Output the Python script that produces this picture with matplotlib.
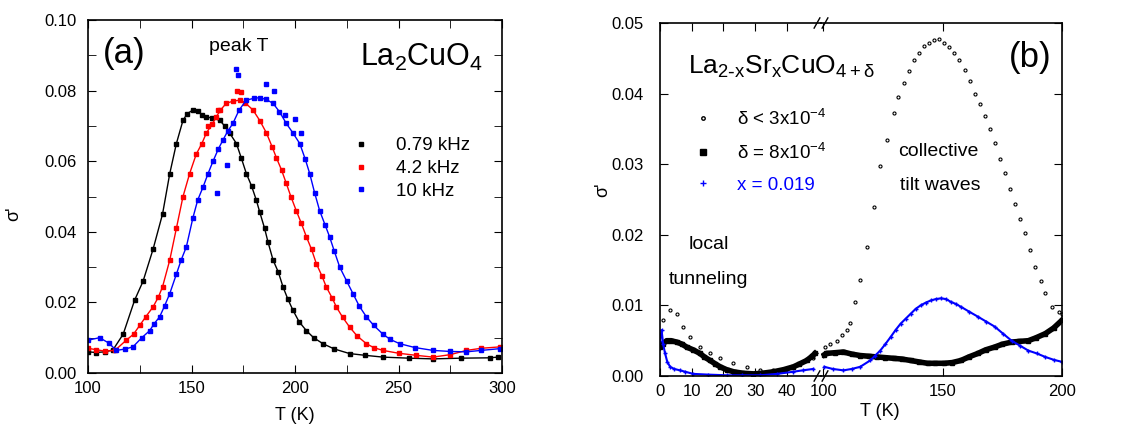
import matplotlib
matplotlib.use("Agg")
import matplotlib.pyplot as plt
from matplotlib.lines import Line2D
from matplotlib.ticker import MultipleLocator, FormatStrFormatter

plt.rcParams['font.family'] = ['Liberation Sans', 'DejaVu Sans']
plt.rcParams['mathtext.default'] = 'regular'

# ---------------- Panel (a) data: La2CuO4 ----------------
T_079 = [100, 104, 108, 112, 117, 122.5, 126.6, 131.4, 136, 139.5, 142.7, 145.9, 148, 150.7, 153, 155, 157,
         160, 163.6, 166, 168.4, 171.7, 174, 176.5, 179, 181.3, 183, 185.3, 187, 189.4, 192, 194.2, 196.5,
         199, 202, 205.5, 209, 213.5, 219, 226.4, 234, 242.5, 255, 266.7, 280, 294, 298]
S_079 = [0.0060, 0.0058, 0.0060, 0.0065, 0.011, 0.0206, 0.026, 0.035, 0.045, 0.0565, 0.065, 0.0716, 0.0735,
         0.0745, 0.0742, 0.0732, 0.0726, 0.0722, 0.0716, 0.0700, 0.0680, 0.0650, 0.0610, 0.0565, 0.0530,
         0.0490, 0.0455, 0.0410, 0.0370, 0.0320, 0.0285, 0.0244, 0.0210, 0.0178, 0.0145, 0.0120, 0.0100,
         0.0083, 0.0068, 0.0055, 0.0050, 0.0045, 0.0042, 0.0040, 0.0042, 0.0043, 0.0045]

T_42 = [100, 104, 108, 113, 118.5, 122, 125, 128, 131.4, 134, 136, 139.5, 142.7, 145.9, 149.1, 152.3, 155,
        157.2, 160, 162, 164, 166.8, 170, 173.3, 176, 179.7, 183, 186.2, 189, 191, 193.5, 195.8, 198,
        200.6, 203, 205.5, 208, 210.3, 213, 215.1, 218, 220, 223, 226.4, 230, 234.5, 238, 242.5, 250,
        258.6, 266.7, 275, 282.8, 290, 298.9]
S_42 = [0.0070, 0.0066, 0.0062, 0.0064, 0.0093, 0.0110, 0.0135, 0.0160, 0.0187, 0.0215, 0.0244, 0.0320,
        0.0410, 0.0500, 0.0565, 0.0620, 0.0650, 0.0680, 0.0705, 0.0726, 0.0745, 0.0764, 0.0770, 0.0773,
        0.0765, 0.0745, 0.0715, 0.0680, 0.0640, 0.0610, 0.0575, 0.0537, 0.0500, 0.0460, 0.0425, 0.0386,
        0.0350, 0.0310, 0.0275, 0.0244, 0.0212, 0.0187, 0.0158, 0.0130, 0.0105, 0.0083, 0.0072, 0.0064,
        0.0056, 0.0050, 0.0045, 0.0052, 0.0064, 0.0070, 0.0074]

T_10 = [100, 105.6, 110, 113.7, 118, 121.7, 126, 129.8, 132, 134.6, 137, 139.5, 142.7, 145, 147.5, 150.7,
        153, 155.6, 158, 160.4, 163, 165.2, 167.5, 170, 173, 176.5, 180, 182.9, 186, 189.4, 192.5, 195.8,
        199, 202.3, 205, 207.1, 209.5, 211.9, 214.5, 216.7, 219, 221.6, 225, 228, 231, 234.5, 238,
        242.5, 246, 250.6, 258, 266.7, 275, 282.8, 290, 298.9]
S_10 = [0.0093, 0.0100, 0.0085, 0.0064, 0.0068, 0.0074, 0.0100, 0.0120, 0.0140, 0.0159, 0.0190, 0.0225,
        0.0280, 0.0320, 0.0357, 0.0440, 0.0490, 0.0527, 0.0565, 0.0600, 0.0635, 0.0660, 0.0685, 0.0707,
        0.0745, 0.0773, 0.0778, 0.0780, 0.0775, 0.0764, 0.0740, 0.0707, 0.0680, 0.0650, 0.0605, 0.0565,
        0.0510, 0.0460, 0.0420, 0.0386, 0.0345, 0.0300, 0.0260, 0.0225, 0.0190, 0.0159, 0.0135, 0.0110,
        0.0095, 0.0083, 0.0072, 0.0064, 0.0061, 0.0060, 0.0064, 0.0069]

# scattered outliers near the peak
T_10_out = [171.5, 172.5, 186, 190, 195, 200, 203, 167, 162.5]
S_10_out = [0.0860, 0.0845, 0.0820, 0.0800, 0.0730, 0.0720, 0.0680, 0.0590, 0.0510]
T_42_out = [172, 174, 158, 163]
S_42_out = [0.0800, 0.0795, 0.0700, 0.0745]

labels_a = ['0.79 kHz', '4.2 kHz', '10 kHz']
colors_a = ['black', 'red', 'blue']

# ---------------- Panel (b) data: La2-xSrxCuO4+d ----------------
# delta < 3e-4 (open circles)
Tb1_lo = [1, 3.2, 5.3, 7.4, 9.5, 12.6, 15.8, 19, 23, 27.4, 31.6, 35.8, 40, 44.2, 48.4]
Sb1_lo = [0.0079, 0.0093, 0.0088, 0.0070, 0.0055, 0.0041, 0.0032, 0.0025, 0.0018, 0.0013, 0.0008,
          0.0008, 0.0010, 0.0018, 0.0025]
Tb1_hi = [100.7, 103, 105.6, 108, 109.9, 111.3, 113.5, 115.5, 118.3, 121.1, 123.9, 126.8, 129.6, 131.5,
          133.8, 136, 138, 140, 142.3, 144.5, 146.5, 148.5, 150.7, 152.8, 154.9, 157, 159.2, 161.3, 163.4,
          165.5, 167.6, 169.7, 171.8, 174, 176.1, 178.2, 180.3, 182.4, 184.5, 186.6, 188.7, 191, 193,
          195.8, 198.6, 200]
Sb1_hi = [0.0041, 0.0045, 0.0050, 0.0058, 0.0065, 0.0075, 0.0105, 0.0136, 0.0183, 0.0240, 0.0297, 0.0334,
          0.0372, 0.0395, 0.0415, 0.0432, 0.0448, 0.0458, 0.0467, 0.0472, 0.0476, 0.0477, 0.0472, 0.0466,
          0.0457, 0.0447, 0.0434, 0.0418, 0.0400, 0.0385, 0.0368, 0.0350, 0.0330, 0.0308, 0.0287, 0.0265,
          0.0244, 0.0222, 0.0202, 0.0178, 0.0155, 0.0135, 0.0117, 0.0098, 0.0090, 0.0088]

# delta = 8e-4 (filled squares)
Tb2_lo = [0, 1, 2.1, 3.5, 5.3, 7, 8.4, 10.5, 12.6, 14, 15.8, 17.5, 19, 21, 23.2, 26, 29.5, 32.5, 35.8,
          39, 42.1, 44, 46.3, 48, 48.9]
Sb2_lo = [0.0041, 0.0046, 0.0050, 0.0050, 0.0048, 0.0045, 0.0041, 0.0037, 0.0032, 0.0027, 0.0022, 0.0017,
          0.0013, 0.0009, 0.0006, 0.0004, 0.0003, 0.0004, 0.0006, 0.0009, 0.0013, 0.0017, 0.0022, 0.0028,
          0.0032]
Tb2_hi = [100.5, 101.4, 105, 108.5, 112, 115.5, 119, 122.5, 126, 129.6, 133, 136.6, 140, 143.7, 147,
          150.7, 154, 157.7, 161, 164.8, 168, 171.8, 175, 178.9, 182, 185.9, 189, 193, 196.5, 200]
Sb2_hi = [0.0030, 0.0032, 0.0033, 0.0034, 0.0031, 0.0029, 0.0028, 0.0027, 0.0026, 0.0025, 0.0024, 0.0022,
          0.0020, 0.0018, 0.0018, 0.0018, 0.0019, 0.0022, 0.0027, 0.0032, 0.0037, 0.0041, 0.0045, 0.0048,
          0.0049, 0.0050, 0.0054, 0.0060, 0.0068, 0.0079]

# x = 0.019 (blue)
Tb3_lo = [0, 0.5, 1, 1.6, 2.3, 3.2, 4.5, 6.3, 8, 10.5, 15, 21, 26, 31.6, 37, 42, 45, 48.4]
Sb3_lo = [0.0050, 0.0065, 0.0045, 0.0032, 0.0020, 0.0013, 0.0010, 0.0008, 0.0006, 0.0003, 0.0002, 0.0001,
          0.0001, 0.0001, 0.0003, 0.0006, 0.0008, 0.0010]
Tb3_hi = [100.5, 104, 108.5, 112, 115.5, 119.7, 121.8, 123.9, 126, 128.2, 130.3, 132.4, 134.5, 136.6,
          138.7, 140.8, 143, 145.1, 147.2, 149.3, 151.4, 153.5, 155.6, 157.7, 161.2, 164.8, 168.3, 171.8,
          175.3, 178.9, 182.4, 185.9, 189.4, 193, 196.5, 200]
Sb3_hi = [0.0013, 0.0010, 0.0008, 0.0010, 0.0013, 0.0022, 0.0029, 0.0036, 0.0045, 0.0055, 0.0065, 0.0074,
          0.0081, 0.0088, 0.0095, 0.0100, 0.0104, 0.0107, 0.0109, 0.0110, 0.0109, 0.0105, 0.0102, 0.0098,
          0.0091, 0.0084, 0.0077, 0.0070, 0.0060, 0.0050, 0.0043, 0.0036, 0.0032, 0.0027, 0.0023, 0.0020]

labels_b = ['δ < 3x10$^{-4}$', 'δ = 8x10$^{-4}$', 'x = 0.019']

# ---------------- Figure ----------------
W, H = 1145, 425
fig = plt.figure(figsize=(W / 100, H / 100), dpi=100)

def rect(x0, x1, ytop, ybot):
    return [x0 / W, (H - ybot) / H, (x1 - x0) / W, (ybot - ytop) / H]

TICK_FS = 12

# Panel (a)
ax = fig.add_axes(rect(88, 502, 20, 373))
ms = 2.6
ax.plot(T_079, S_079, color='black', lw=1.0, marker='s', ms=ms, ls='-')
ax.plot(T_42, S_42, color='red', lw=1.0, marker='s', ms=ms, ls='-')
ax.plot(T_10, S_10, color='blue', lw=1.0, marker='s', ms=ms, ls='-')
ax.plot(T_42_out, S_42_out, color='red', lw=0, marker='s', ms=ms)
ax.plot(T_10_out, S_10_out, color='blue', lw=0, marker='s', ms=ms)
ax.set_xlim(100, 300)
ax.set_ylim(0, 0.10)
ax.xaxis.set_major_locator(MultipleLocator(50))
ax.xaxis.set_minor_locator(MultipleLocator(25))
ax.yaxis.set_major_locator(MultipleLocator(0.02))
ax.yaxis.set_minor_locator(MultipleLocator(0.01))
ax.yaxis.set_major_formatter(FormatStrFormatter('%.2f'))
ax.tick_params(which='both', direction='in', top=True, right=True, labelsize=TICK_FS, length=6)
ax.tick_params(axis='y', which='both', pad=8)
ax.tick_params(axis='x', which='both', pad=6)
ax.set_xlabel('T (K)', fontsize=13)
ax.xaxis.set_label_coords(0.5, -0.095)
ax.set_ylabel("σ'", fontsize=13)
ax.yaxis.set_label_coords(-0.16, 0.45)
ax.text(0.035, 0.905, '(a)', transform=ax.transAxes, fontsize=25, ha='left', va='center')
ax.text(0.365, 0.925, 'peak T', transform=ax.transAxes, fontsize=14, ha='center', va='center')
ax.text(0.955, 0.895, 'La$_2$CuO$_4$', transform=ax.transAxes, fontsize=22, ha='right', va='center')
handles = [Line2D([], [], color=c, marker='s', ms=3.2, ls='none') for c in colors_a]
ax.legend(handles, labels_a, loc='upper left', bbox_to_anchor=(0.60, 0.705), frameon=False,
          fontsize=13.5, handletextpad=1.3, labelspacing=0.3, handlelength=1.2, borderpad=0.2)
for s in ax.spines.values():
    s.set_linewidth(1.2)

# Panel (b) - broken x axis
axL = fig.add_axes(rect(660, 821, 23, 376))
axR = fig.add_axes(rect(821, 1062, 23, 376), sharey=axL)
axR.patch.set_visible(False)
axL.set_zorder(2)
axL.patch.set_visible(False)
axL.plot(Tb1_lo, Sb1_lo, ls='none', marker='o', ms=2.2, mfc='white', mec='black', mew=0.8)
axR.plot(Tb1_hi, Sb1_hi, ls='none', marker='o', ms=2.2, mfc='white', mec='black', mew=0.8)
axL.plot(Tb2_lo, Sb2_lo, ls='-', lw=4, color='black', marker='s', ms=3)
axR.plot(Tb2_hi, Sb2_hi, ls='-', lw=4, color='black', marker='s', ms=3)
axL.plot(Tb3_lo, Sb3_lo, ls='-', lw=1.5, color='blue', marker='+', ms=3)
axR.plot(Tb3_hi, Sb3_hi, ls='-', lw=1.5, color='blue', marker='+', ms=3)

axL.set_xlim(0, 50.8)
axR.set_xlim(99.1, 200)
axL.set_ylim(0, 0.05)
axR.set_xticks([100, 150, 200])
axL.set_xticks([0, 10, 20, 30, 40])
axL.yaxis.set_major_locator(MultipleLocator(0.01))
axL.yaxis.set_major_formatter(FormatStrFormatter('%.2f'))
axL.tick_params(which='both', direction='in', top=True, right=False, labelsize=TICK_FS, length=6)
axR.tick_params(which='both', direction='in', top=True, right=True, left=False, labelleft=False,
                labelsize=TICK_FS, length=6)
axL.tick_params(axis='y', pad=12)
axL.tick_params(axis='x', pad=6)
axR.tick_params(axis='x', pad=6)
axL.spines['right'].set_visible(False)
axR.spines['left'].set_visible(False)
for a in (axL, axR):
    for s in a.spines.values():
        s.set_linewidth(1.2)
axL.set_ylabel("σ'", fontsize=13)
axL.yaxis.set_label_coords(-0.30, 0.527)
fig.text(880 / W, 1 - 411 / H, 'T (K)', fontsize=13, ha='center', va='center')

# break marks
d = 0.012
kw = dict(transform=fig.transFigure, color='black', lw=1.0, clip_on=False)
xb = 821 / W
for yb in (1 - 23 / H, 1 - 376 / H):
    fig.add_artist(Line2D([xb - 0.006, xb - 0.001], [yb - d, yb + d], **kw))
    fig.add_artist(Line2D([xb + 0.001, xb + 0.006], [yb - d, yb + d], **kw))

fig.text(688 / W, 1 - 67 / H, r'La$_{2\text{-}x}$Sr$_x$CuO$_{4+δ}$', fontsize=19, ha='left', va='center')
fig.text(1030 / W, 1 - 57 / H, '(b)', fontsize=25, ha='center', va='center')
fig.text(689 / W, 1 - 245 / H, 'local', fontsize=14, ha='left', va='center')
fig.text(669 / W, 1 - 280 / H, 'tunneling', fontsize=14, ha='left', va='center')
fig.text(898 / W, 1 - 152 / H, 'collective', fontsize=14, ha='left', va='center')
fig.text(900 / W, 1 - 185 / H, 'tilt waves', fontsize=14, ha='left', va='center')

hb = [Line2D([], [], ls='none', marker='o', ms=2.5, mfc='white', mec='black'),
      Line2D([], [], ls='none', marker='s', ms=4, color='black'),
      Line2D([], [], ls='none', marker='+', ms=4, color='blue')]
legb = axL.legend(hb, labels_b, loc='upper left', bbox_to_anchor=(0.13, 0.795), frameon=False,
                  fontsize=13.5, handletextpad=1.3, labelspacing=0.75, handlelength=1.0, borderpad=0.2)
legb.get_texts()[2].set_color('blue')

fig.savefig('out.png', dpi=100)
